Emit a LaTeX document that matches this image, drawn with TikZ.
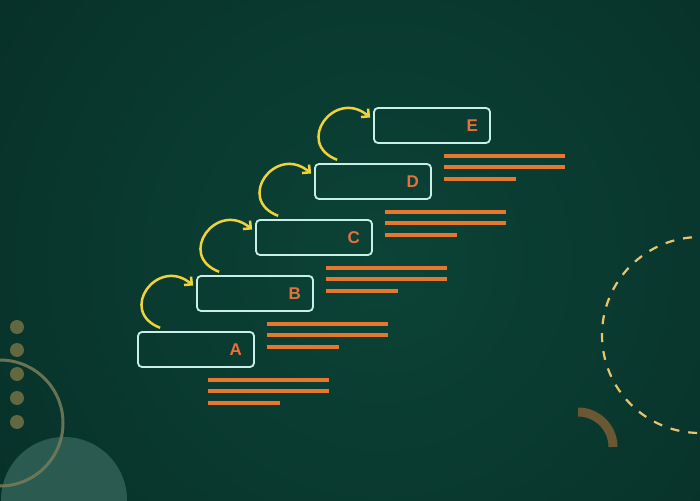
\documentclass[tikz,border=0pt]{standalone}
\usepackage{fontspec}
\newfontfamily\lblfont{Liberation Sans}
\usetikzlibrary{arrows.meta}
\definecolor{bgin}{HTML}{0C4337}
\definecolor{bgout}{HTML}{04251F}
\definecolor{boxline}{HTML}{C8F0E6}
\definecolor{lbl}{HTML}{E8703A}
\definecolor{barc}{HTML}{E8772E}
\definecolor{arrowy}{HTML}{EFD23C}
\definecolor{dotc}{HTML}{62683F}
\definecolor{ringc}{HTML}{737A58}
\definecolor{halfc}{HTML}{2A5A50}
\definecolor{dashc}{HTML}{E9C46A}
\definecolor{brownc}{HTML}{6A5834}
\begin{document}
\begin{tikzpicture}[x=1pt,y=1pt,
  stepbox/.style={draw=boxline, line width=1.8pt, rounded corners=4pt,
    minimum width=116pt, minimum height=35pt, text width=92pt, align=right,
    inner xsep=12pt, inner ysep=0pt,
    font=\lblfont\bfseries\fontsize{17}{17}\selectfont, text=lbl},
  jump/.style={draw=arrowy, line width=2.5pt, -{Straight Barb[length=5.5pt,width=11pt]}},
  bar/.style={draw=barc, line width=4pt}]
\useasboundingbox (0,0) rectangle (700,500);
\clip (0,0) rectangle (700,500);
% background
\fill[bgout] (0,0) rectangle (700,500);
\shade[inner color=bgin, outer color=bgout] (380,240) circle (760);
% decorations
\fill[halfc] (64,0) circle (63);
\foreach \y in {173,150,126,102,78} \fill[dotc] (17,\y) circle (7);
\draw[ringc, line width=3pt, opacity=0.9] (0,77) circle (63);
\draw[dashc, line width=2.2pt, dash pattern=on 9pt off 9pt] (700,165) circle (98);
\draw[brownc, line width=9pt] (578,88) arc[start angle=90, end angle=0, radius=35];
% boxes
\node[stepbox] (A) at (196,150.5) {A};
\node[stepbox] (B) at (255,206.5) {B};
\node[stepbox] (C) at (314,262.5) {C};
\node[stepbox] (D) at (373,318.5) {D};
\node[stepbox] (E) at (432,374.5) {E};
% text bars
\foreach \n in {A,B,C,D,E}{
  \draw[bar] ([shift={(12,-30.5)}]\n.center) -- ++(121,0);
  \draw[bar] ([shift={(12,-42)}]\n.center) -- ++(121,0);
  \draw[bar] ([shift={(12,-53.5)}]\n.center) -- ++(72,0);
}
% arrows
\foreach \a/\b in {A/B,B/C,C/D,D/E}{
  \draw[jump] ([shift={(23,3.3)}]\a.north west) to[out=159,in=140,looseness=2.2] ([shift={(-3,8)}]\b.west);
}
\end{tikzpicture}
\end{document}
